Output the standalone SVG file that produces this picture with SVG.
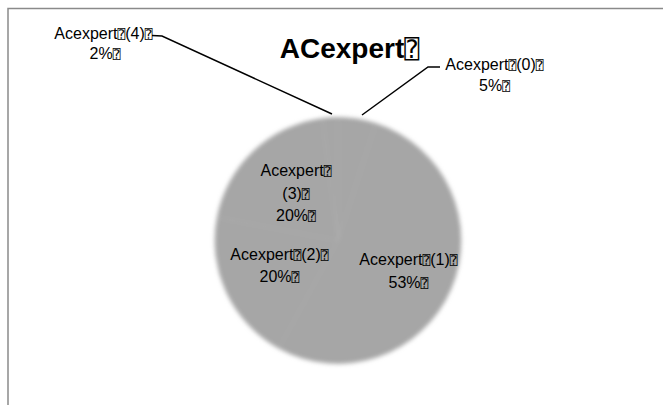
<svg xmlns="http://www.w3.org/2000/svg" width="663" height="405" viewBox="0 0 663 405">
  <defs>
    <filter id="soft" x="-10%" y="-10%" width="120%" height="120%">
      <feGaussianBlur stdDeviation="2"/>
    </filter>
  </defs>
  <style>
    .frame { fill: #ffffff; stroke: #8a8a8a; stroke-width: 1.5; }
    .slice { fill: #a6a6a6; stroke: #afafaf; stroke-width: 0.8; }
    .lbl { font-family: "Liberation Sans", Arial, sans-serif; font-size: 16px; fill: #000000; text-anchor: middle; }
    .title { font-family: "Liberation Sans", Arial, sans-serif; font-size: 28px; font-weight: bold; fill: #000000; text-anchor: middle; }
    .q { font-family: "DejaVu Sans Mono", "DejaVu Sans", monospace; font-size: 13px; font-weight: normal; }
    .qt { font-family: "DejaVu Sans Mono", "DejaVu Sans", monospace; font-size: 25px; font-weight: normal; }
    .lead { fill: none; stroke: #000000; stroke-width: 1.5; }
  </style>

  <rect class="frame" x="8" y="8.5" width="700" height="450"/>

  <g id="title">
    <text class="title" x="349.5" y="58">ACexpert<tspan class="qt">⍰</tspan></text>
  </g>

  <g id="pie" filter="url(#soft)">
    <path id="slice0" class="slice" d="M338,240.5 L338,117.5 A123,123 0 0 1 376.01,123.52 Z"/>
    <path id="slice1" class="slice" d="M338,240.5 L376.01,123.52 A123,123 0 1 1 278.74,348.29 Z"/>
    <path id="slice2" class="slice" d="M338,240.5 L278.74,348.29 A123,123 0 0 1 217.17,217.45 Z"/>
    <path id="slice3" class="slice" d="M338,240.5 L217.17,217.45 A123,123 0 0 1 322.58,118.47 Z"/>
    <path id="slice4" class="slice" d="M338,240.5 L322.58,118.47 A123,123 0 0 1 338,117.5 Z"/>
  </g>

  <g id="connectors">
    <polyline class="lead" points="440,67 428,67 362,115"/>
    <polyline class="lead" points="152,35.5 162,36 332,114"/>
  </g>

  <g id="node-acexpert0">
    <text class="lbl" x="494.5" y="70">Acexpert<tspan class="q">⍰</tspan>(0)<tspan class="q">⍰</tspan></text>
    <text class="lbl" x="494.5" y="91">5%<tspan class="q">⍰</tspan></text>
  </g>

  <g id="node-acexpert1">
    <text class="lbl" x="408.5" y="265">Acexpert<tspan class="q">⍰</tspan>(1)<tspan class="q">⍰</tspan></text>
    <text class="lbl" x="408.5" y="287.5">53%<tspan class="q">⍰</tspan></text>
  </g>

  <g id="node-acexpert2">
    <text class="lbl" x="279.5" y="260">Acexpert<tspan class="q">⍰</tspan>(2)<tspan class="q">⍰</tspan></text>
    <text class="lbl" x="279.5" y="281.5">20%<tspan class="q">⍰</tspan></text>
  </g>

  <g id="node-acexpert3">
    <text class="lbl" x="296" y="176">Acexpert<tspan class="q">⍰</tspan></text>
    <text class="lbl" x="296" y="199">(3)<tspan class="q">⍰</tspan></text>
    <text class="lbl" x="296" y="221">20%<tspan class="q">⍰</tspan></text>
  </g>

  <g id="node-acexpert4">
    <text class="lbl" x="103.5" y="39">Acexpert<tspan class="q">⍰</tspan>(4)<tspan class="q">⍰</tspan></text>
    <text class="lbl" x="105" y="59">2%<tspan class="q">⍰</tspan></text>
  </g>
</svg>
